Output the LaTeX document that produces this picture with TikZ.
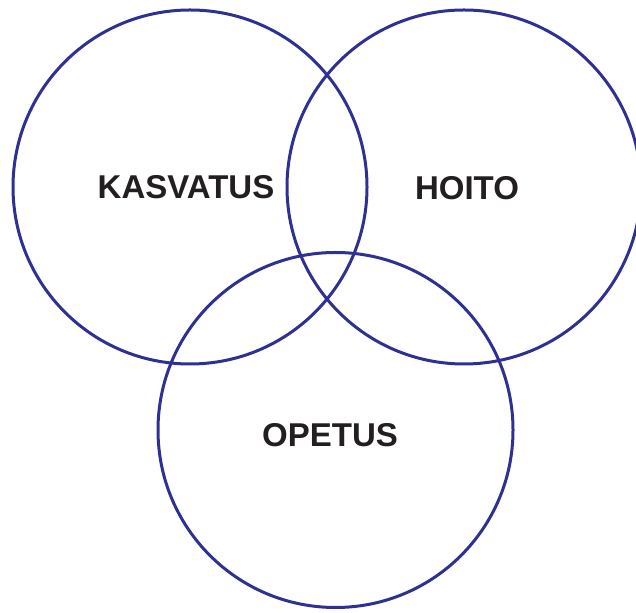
\documentclass[tikz,border=0pt]{standalone}
\usepackage{fontspec}
\setmainfont{Liberation Sans}
\definecolor{ringblue}{RGB}{46,49,146}
\definecolor{labelblack}{RGB}{35,31,32}
\tikzset{
  ring/.style={draw=ringblue, line width=3pt},
  area/.style={font=\bfseries\fontsize{33}{40}\selectfont, text=labelblack, inner sep=0pt}
}
\begin{document}
\begin{tikzpicture}[x=1pt,y=1pt]
\useasboundingbox (0,0) rectangle (636,612);
\draw[ring] (190,425) circle[radius=177pt];
\draw[ring] (464,425) circle[radius=177pt];
\draw[ring] (335.5,182) circle[radius=177.5pt];
\node[area] (kasvatus) at (186,424.5) {KASVATUS};
\node[area] (hoito) at (467,424) {HOITO};
\node[area] (opetus) at (330,177) {OPETUS};
\end{tikzpicture}
\end{document}
